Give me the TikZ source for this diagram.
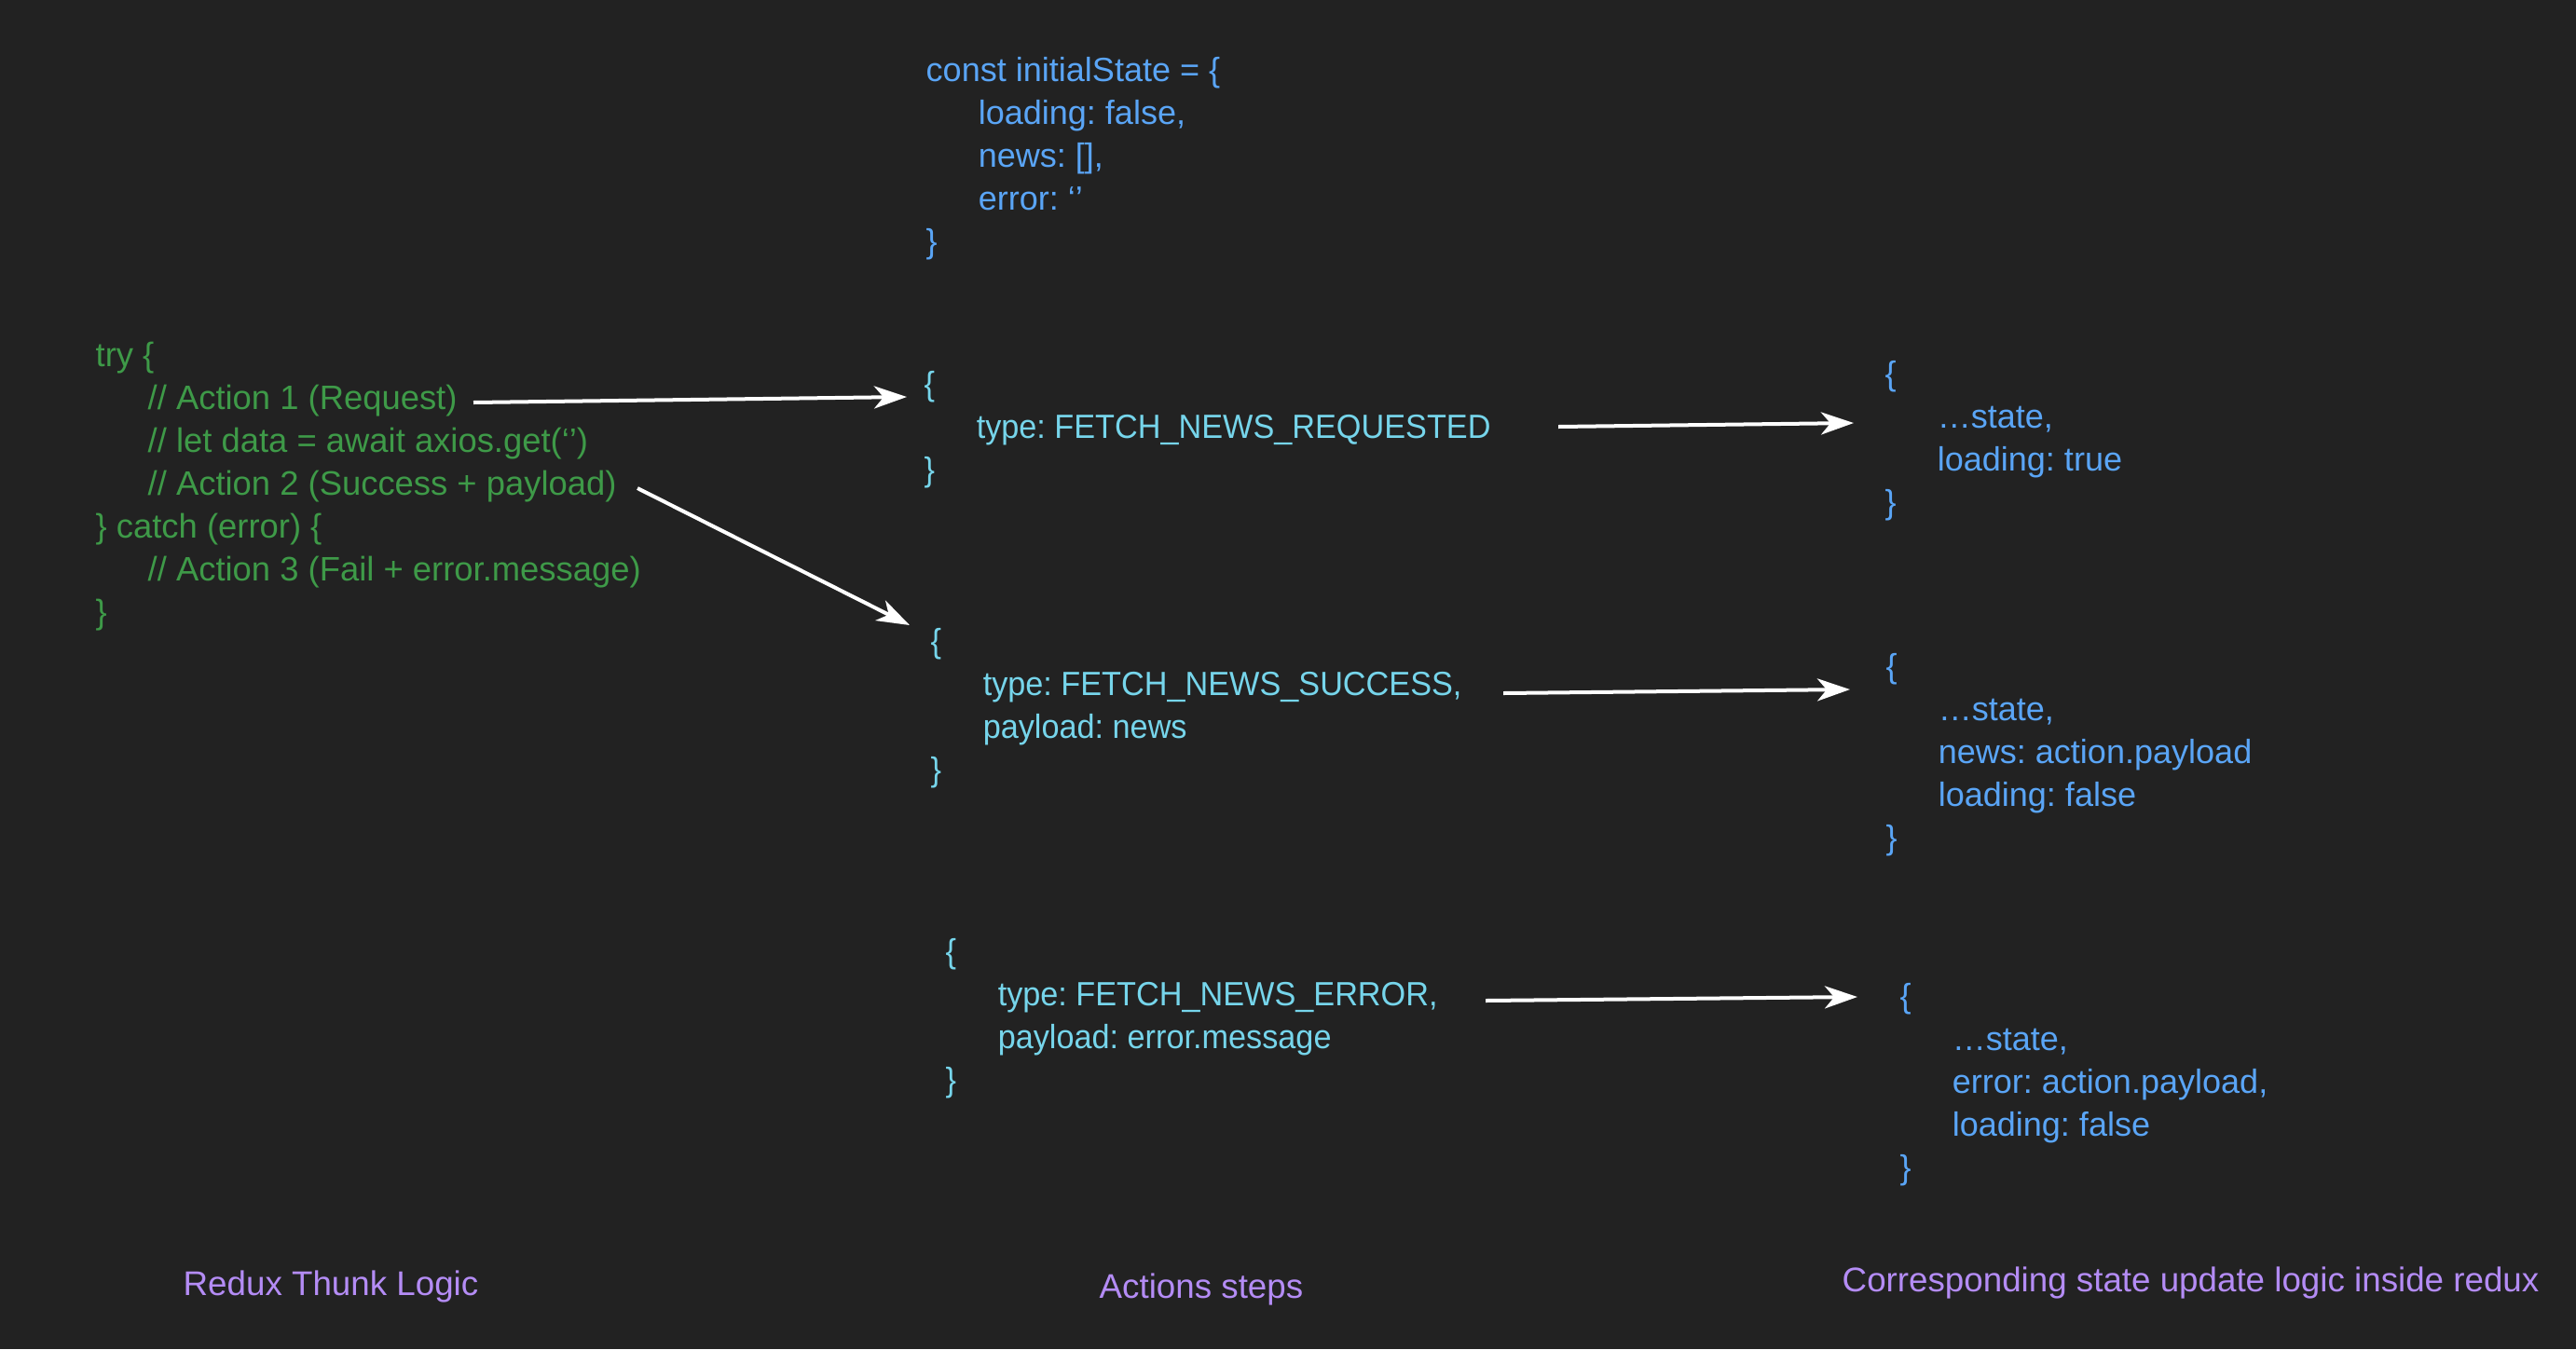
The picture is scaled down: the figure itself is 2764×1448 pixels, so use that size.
\documentclass[tikz,border=0pt]{standalone}
\usepackage{fontspec}
\setmainfont{Liberation Sans}
\newfontfamily\actfont[FakeStretch=0.95]{Liberation Sans}
\usetikzlibrary{arrows.meta}
\definecolor{bgcol}{HTML}{222222}
\definecolor{codegreen}{HTML}{3E9A48}
\definecolor{stateblue}{HTML}{5AA5F6}
\definecolor{actioncyan}{HTML}{76D5EB}
\definecolor{labelpurple}{HTML}{B48CF5}
\newcommand\cblock[1]{\vtop{\baselineskip=0.46cm\lineskiplimit=-1cm\halign{##\hfil\cr#1\crcr}}}
\newcommand\ind{\hskip0.56cm}
\frenchspacing
\begin{document}
\begin{tikzpicture}[x=0.01cm,y=-0.01cm,
  txt/.style={inner sep=0pt, anchor=base west, font=\fontsize{10.25}{12.3}\selectfont},
  codetxt/.style={txt, text=codegreen, font=\fontsize{10.35}{12.4}\selectfont},
  actiontxt/.style={txt, text=actioncyan, font=\fontsize{10.25}{12.3}\actfont},
  statetxt/.style={txt, text=stateblue},
  labeltxt/.style={txt, text=labelpurple, font=\fontsize{10.45}{12.5}\selectfont},
  arr/.style={draw=white, line width=0.04cm, -{Stealth[length=0.35cm, width=0.24cm, inset=0.1cm]}}]
\fill[bgcol] (0,0) rectangle (2764,1448);
\useasboundingbox (0,0) rectangle (2764,1448);

% left: thunk logic
\node[codetxt] (thunk) at (102,393) {\cblock{try \{\cr
\ind// Action 1 (Request)\cr
\ind// let data = await axios.get(‘’)\cr
\ind// Action 2 (Success + payload)\cr
\} catch (error) \{\cr
\ind// Action 3 (Fail + error.message)\cr
\}}};

% middle: initial state and actions
\node[statetxt] (init) at (993,87) {\cblock{const initialState = \{\cr
\ind loading: false,\cr
\ind news: [],\cr
\ind error: ‘’\cr
\}}};

\node[actiontxt] (act1) at (991,424) {\cblock{\{\cr
\ind type: FETCH\_NEWS\_REQUESTED\cr
\}}};

\node[actiontxt] (act2) at (998,700) {\cblock{\{\cr
\ind type: FETCH\_NEWS\_SUCCESS,\cr
\ind payload: news\cr
\}}};

\node[actiontxt] (act3) at (1014,1033) {\cblock{\{\cr
\ind type: FETCH\_NEWS\_ERROR,\cr
\ind payload: error.message\cr
\}}};

% right: state updates
\node[statetxt] (st1) at (2022,413) {\cblock{\{\cr
\ind …state,\cr
\ind loading: true\cr
\}}};

\node[statetxt] (st2) at (2023,727) {\cblock{\{\cr
\ind …state,\cr
\ind news: action.payload\cr
\ind loading: false\cr
\}}};

\node[statetxt] (st3) at (2038,1081) {\cblock{\{\cr
\ind …state,\cr
\ind error: action.payload,\cr
\ind loading: false\cr
\}}};

% bottom labels
\node[labeltxt] (lab1) at (196,1390) {Redux Thunk Logic};
\node[labeltxt] (lab2) at (1179,1393) {Actions steps};
\node[labeltxt] (lab3) at (1976,1386) {Corresponding state update logic inside redux};

% connector ends
\coordinate (a1s) at (508,432);  \coordinate (a1e) at (973,426);
\coordinate (a2s) at (684,524);  \coordinate (a2e) at (976,671);
\coordinate (a3s) at (1672,458); \coordinate (a3e) at (1989,454);
\coordinate (a4s) at (1613,744); \coordinate (a4e) at (1985,740);
\coordinate (a5s) at (1594,1074);\coordinate (a5e) at (1993,1070);

\draw[arr] (a1s) -- (a1e);
\draw[arr] (a2s) -- (a2e);
\draw[arr] (a3s) -- (a3e);
\draw[arr] (a4s) -- (a4e);
\draw[arr] (a5s) -- (a5e);
\end{tikzpicture}
\end{document}
